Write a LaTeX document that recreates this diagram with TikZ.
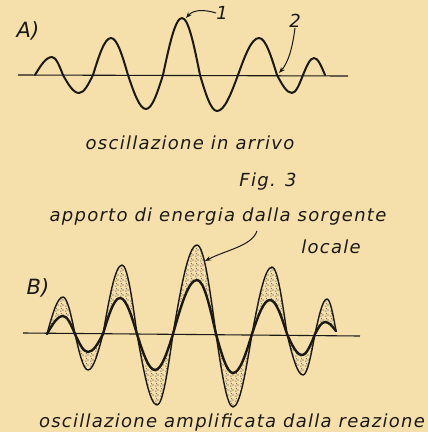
\documentclass[tikz,border=0pt]{standalone}
\usepackage{fontspec}
\setmainfont{DejaVu Sans}
\newfontfamily\handfont[LetterSpace=7]{DejaVu Sans}
\usetikzlibrary{patterns,arrows.meta}
\definecolor{paper}{RGB}{245,224,172}
\definecolor{ink}{RGB}{28,24,20}
\pgfdeclarepatternformonly{sdots}{\pgfqpoint{0pt}{0pt}}{\pgfqpoint{5pt}{5pt}}{\pgfqpoint{5pt}{5pt}}{%
  \pgfpathcircle{\pgfqpoint{1pt}{1pt}}{0.7pt}%
  \pgfpathcircle{\pgfqpoint{3.6pt}{2.3pt}}{0.7pt}%
  \pgfpathcircle{\pgfqpoint{1.7pt}{3.9pt}}{0.65pt}%
  \pgfusepath{fill}}
\tikzset{
  wave/.style={ink, line width=2pt, line cap=round, line join=round},
  thinwave/.style={ink, line width=1.4pt, line cap=round, line join=round},
  axis/.style={ink, line width=1.1pt},
  lab/.style={font=\handfont\fontsize{18}{18}\selectfont\itshape, text=ink, inner sep=0pt},
  biglab/.style={font=\fontsize{21}{21}\selectfont\itshape, text=ink, inner sep=0pt},
  leader/.style={ink, line width=1pt, -{Stealth[length=6pt,width=4.5pt]}},
}
\begin{document}
\begin{tikzpicture}[x=1pt,y=-1pt]
\fill[paper] (0,0) rectangle (428,432);
\useasboundingbox (0,0) rectangle (428,432);

% ---------- A ----------
\node[biglab] (A) at (28,31) {A)};
\coordinate (a0) at (18,75);
\coordinate (a1) at (348,76);
\draw[axis] (a0) -- (a1);
\draw[wave] (35,75) sin (52,57) cos (63,75) sin (79,93) cos (93,75)
  sin (111,38) cos (128,75) sin (146,109) cos (163,75)
  sin (182,18) cos (200,75) sin (217,111) cos (238,75)
  sin (259,38) cos (277,75) sin (292,93) cos (303,75)
  sin (314,58) cos (325,75);
\node[lab] (n1) at (222,13) {1};
\coordinate (p1) at (186,18);
\draw[leader] (n1.west) .. controls (203,9) and (193,10) .. (p1);
\node[lab] (n2) at (295,21) {2};
\coordinate (p2) at (279,73);
\draw[leader] (n2.south) .. controls (292,52) and (287,64) .. (p2);

\node[lab] (tA) at (190,143) {oscillazione in arrivo};
\node[lab] (fig) at (268,182) {Fig. 3};

% ---------- B ----------
\node[lab] (en) at (218,217) {apporto di energia dalla sorgente};
\node[lab] (loc) at (331,247) {locale};
\node[biglab] (B) at (38,288) {B)};

\fill[pattern=sdots, pattern color=ink!85] (47,334) sin (63,297) cos (75,334) sin (88,370) cos (103,334)
  sin (122,265) cos (137,334) sin (157,405) cos (173,334)
  sin (197,245) cos (216,334) sin (233,407) cos (252,334)
  sin (272,267) cos (287,334) sin (303,375) cos (315,334)
  sin (327,299) cos (336,331) -- cycle;
\fill[paper] (47,334) sin (63,316) cos (75,334) sin (88,352) cos (103,334)
  sin (120,298) cos (137,334) sin (155,370) cos (173,334)
  sin (197,280) cos (216,334) sin (233,373) cos (252,334)
  sin (270,300) cos (287,334) sin (302,355) cos (315,334)
  sin (325,322) cos (336,331) -- cycle;

\coordinate (b0) at (23,333);
\coordinate (b1) at (360,336);
\draw[axis] (b0) -- (b1);
\draw[thinwave] (47,334) sin (63,297) cos (75,334) sin (88,370) cos (103,334)
  sin (122,265) cos (137,334) sin (157,405) cos (173,334)
  sin (197,245) cos (216,334) sin (233,407) cos (252,334)
  sin (272,267) cos (287,334) sin (303,375) cos (315,334)
  sin (327,299) cos (336,331);
\draw[wave, line width=2.4pt] (47,334) sin (63,316) cos (75,334) sin (88,352) cos (103,334)
  sin (120,298) cos (137,334) sin (155,370) cos (173,334)
  sin (197,280) cos (216,334) sin (233,373) cos (252,334)
  sin (270,300) cos (287,334) sin (302,355) cos (315,334)
  sin (325,322) cos (336,331);

\coordinate (pe) at (205,261);
\draw[leader] (en.south -| 257,0) ++(0,5) .. controls (252,246) and (226,250) .. (pe);

\node[lab] (tB) at (232,423) {oscillazione amplificata dalla reazione};
\end{tikzpicture}
\end{document}
